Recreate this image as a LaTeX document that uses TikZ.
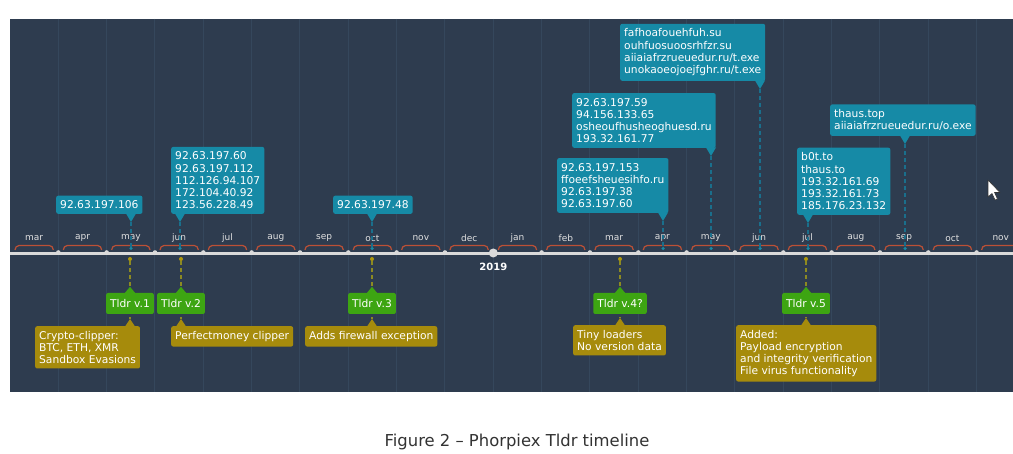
\documentclass[tikz,border=0pt]{standalone}
\usepackage{fontspec}
\setmainfont{DejaVu Sans}
\usepackage{xcolor}
\usetikzlibrary{positioning, calc}

\definecolor{panelbg}{HTML}{2E3C4F}
\definecolor{gridc}{HTML}{35475C}
\definecolor{ipcyan}{HTML}{168AA6}
\definecolor{ipdashc}{HTML}{1A6F8C}
\definecolor{vgreen}{HTML}{3DA512}
\definecolor{ngold}{HTML}{A68B0C}
\definecolor{ndashc}{HTML}{8C8A22}
\definecolor{bracec}{HTML}{BC5036}
\definecolor{axisc}{HTML}{DADADA}

\tikzset{
  ipbox/.style={fill=ipcyan, text=white, rounded corners=2pt, align=left, inner xsep=4pt, inner ysep=5pt, anchor=south west, font=\fontsize{10.7}{12.2}\selectfont},
  verbox/.style={fill=vgreen, text=white, rounded corners=2pt, inner xsep=4pt, inner ysep=0pt, minimum height=21pt, font=\fontsize{10.7}{12}\selectfont},
  notebox/.style={fill=ngold, text=white, rounded corners=2pt, align=left, inner xsep=4pt, inner ysep=5pt, anchor=north west, font=\fontsize{10.7}{12}\selectfont},
  ipdot/.style={circle, fill=ipcyan, inner sep=0pt, minimum size=3.5pt},
  notedot/.style={circle, fill=ngold!90!yellow, inner sep=0pt, minimum size=4pt},
  ipdash/.style={ipdashc, line width=1.3pt, dash pattern=on 4pt off 3pt},
  notedash/.style={ndashc, line width=1.3pt, dash pattern=on 4pt off 3pt},
  monthlbl/.style={text=white!88!black, font=\fontsize{9}{9}\selectfont, inner sep=0pt},
}

\begin{document}
\begin{tikzpicture}[x=1pt, y=-1pt]
  \useasboundingbox[fill=white] (0,0) rectangle (1013,454);
  \fill[panelbg] (10,19) rectangle (1013,392);

  % month grid, labels and braces
  \foreach \m [count=\k from 0] in {mar,apr,may,jun,jul,aug,sep,oct,nov,dec,jan,feb,mar,apr,may,jun,jul,aug,sep,oct,nov} {
    \pgfmathsetmacro{\xa}{10+48.33*\k}
    \pgfmathsetmacro{\xb}{\xa+48.33}
    \ifnum\k>0
      \draw[gridc, line width=1pt] (\xa,19) -- (\xa,392);
    \fi
    \node[monthlbl] (month\k) at ({(\xa+\xb)/2},238) {\m};
    \draw[bracec, line width=1.2pt] (\xa+5,250) to[out=90, in=180] (\xa+9,245.5) -- (\xb-9,245.5) to[out=0, in=90] (\xb-5,250);
  }

  % top events: C&C addresses
  \foreach \px/\bx/\by/\txt [count=\i] in {
      131/56/214/{92.63.197.106},
      180/171/214/{92.63.197.60\\92.63.197.112\\112.126.94.107\\172.104.40.92\\123.56.228.49},
      372/333/214/{92.63.197.48},
      663/557/213/{92.63.197.153\\ffoeefsheuesihfo.ru\\92.63.197.38\\92.63.197.60},
      711/572/148/{92.63.197.59\\94.156.133.65\\osheoufhusheoghuesd.ru\\193.32.161.77},
      760/620/81/{fafhoafouehfuh.su\\ouhfuosuoosrhfzr.su\\aiiaiafrzrueuedur.ru/t.exe\\unokaoeojoejfghr.ru/t.exe},
      905/830/136/{thaus.top\\aiiaiafrzrueuedur.ru/o.exe},
      808/797/215/{b0t.to\\thaus.to\\193.32.161.69\\193.32.161.73\\185.176.23.132}} {
    \coordinate (iptip\i) at (\px,\by+8);
    \node[ipdot] (ipdot\i) at (\px,248.5) {};
    \draw[ipdash] (iptip\i) -- (ipdot\i);
    \node[ipbox] (ip\i) at (\bx,\by) {\txt};
    \fill[ipcyan] (\px-5,\by-0.5) -- (iptip\i) -- (\px+5,\by-0.5) -- cycle;
  }

  % axis
  \draw[axisc, line width=3.5pt] (10,253.5) -- (1013,253.5);
  \foreach \k in {1,...,20} {
    \fill[axisc] (10+48.33*\k,252.5) circle (2.3pt);
  }
  \node[circle, fill=axisc, inner sep=0pt, minimum size=9pt] (yeardot) at (493.3,253) {};
  \node[text=white, font=\bfseries\fontsize{10}{10}\selectfont, below=2pt of yeardot] (year) {2019};

  % bottom events: versions
  \foreach \px/\nx/\ny/\ver/\txt [count=\i] in {
      130/35/326/{Tldr v.1}/{Crypto-clipper:\\BTC, ETH, XMR\\Sandbox Evasions},
      181/171/326/{Tldr v.2}/{Perfectmoney clipper},
      372/305/326/{Tldr v.3}/{Adds firewall exception},
      620/573/325/{Tldr v.4?}/{Tiny loaders\\No version data},
      806/736/325/{Tldr v.5}/{Added:\\Payload encryption\\and integrity verification\\File virus functionality}} {
    \node[notedot] (vdot\i) at (\px,259) {};
    \coordinate (notetip\i) at (\px,\ny-7);
    \draw[notedash] (vdot\i) -- (notetip\i);
    \node[verbox] (ver\i) at (\px,303.5) {\ver};
    \fill[vgreen] ([xshift=-5pt]ver\i.north) -- ([yshift=6pt]ver\i.north) -- ([xshift=5pt]ver\i.north) -- cycle;
    \node[notebox] (note\i) at (\nx,\ny) {\txt};
    \fill[ngold] (\px-5,\ny+0.5) -- (notetip\i) -- (\px+5,\ny+0.5) -- cycle;
  }

  % mouse pointer
  \filldraw[fill=white, draw=black!80, line width=0.6pt, line join=round]
    (988,180) -- (988,197) -- (992,193.5) -- (995,200) -- (997.5,199) -- (994.5,192.5) -- (1000,192.5) -- cycle;

  \node[text=black!80, font=\fontsize{16.4}{17}\selectfont] (caption) at (517,442) {Figure 2 -- Phorpiex Tldr timeline};
\end{tikzpicture}
\end{document}
